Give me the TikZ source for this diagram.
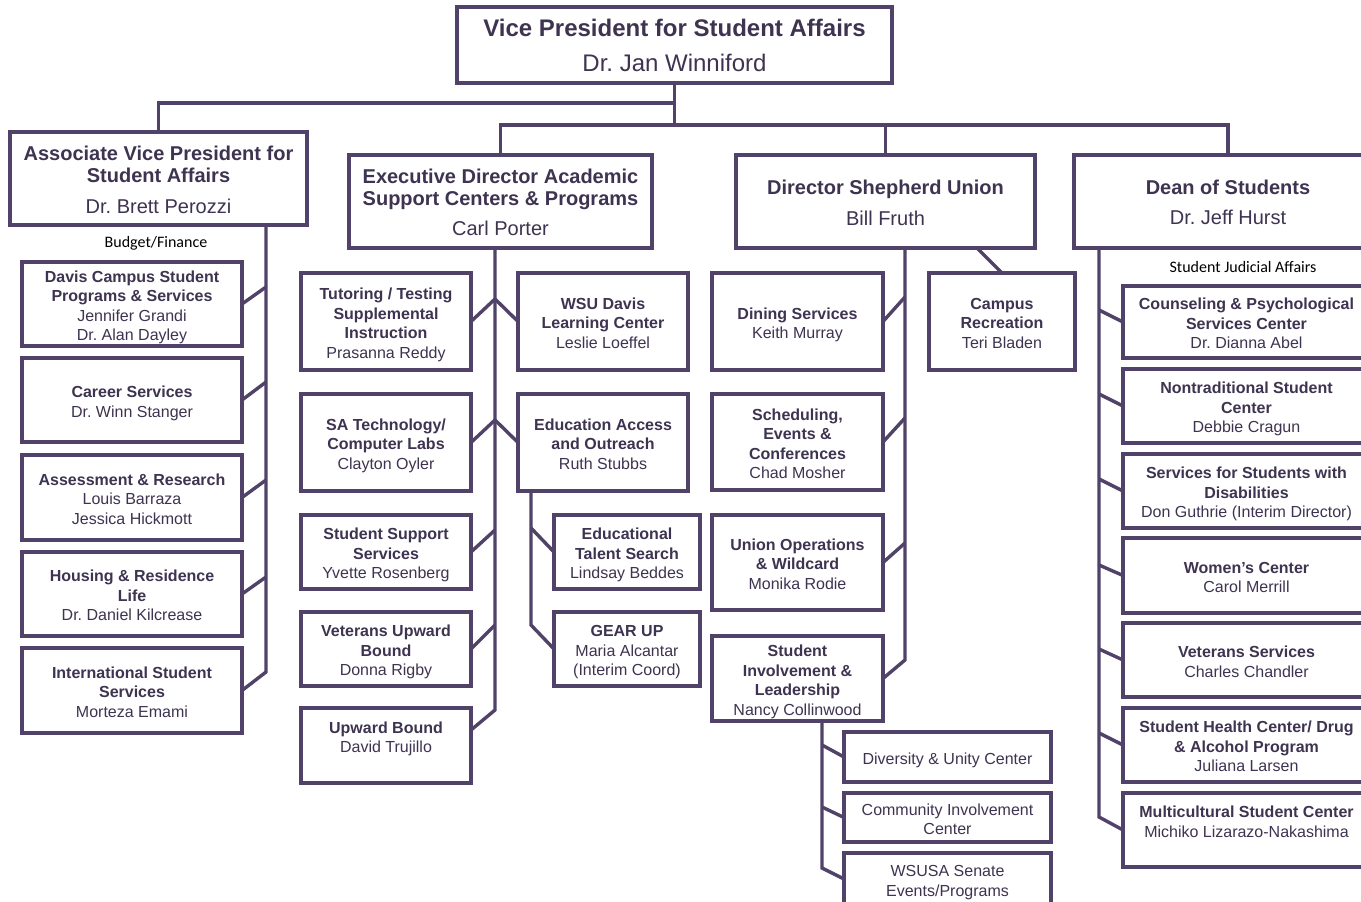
\documentclass[tikz,border=0pt]{standalone}
\usepackage{fontspec}
\setmainfont{Liberation Sans}
\newfontfamily\calibfont{Carlito}
\usetikzlibrary{calc}
\frenchspacing
\definecolor{lc}{RGB}{80,66,104}
\definecolor{tc}{RGB}{62,51,80}
\tikzset{
  strutted/.style 2 args={execute at begin node={\def\fstrut{\rule{0pt}{#1}}\def\lstrut{\rule[-#2]{0pt}{#2}}}},
  obox/.style={draw=lc, line width=3.4pt, fill=white, inner sep=0pt, outer sep=0pt, align=center, text=tc,
    font=\fontsize{16}{19.5}\selectfont, strutted={18pt}{3.4pt}},
  hdr/.style={font=\fontsize{20}{22}\selectfont, strutted={21pt}{4.6pt}},
  vph/.style={font=\fontsize{24}{35}\selectfont, strutted={24pt}{5.8pt}},
  conn/.style={draw=lc, line width=3.4pt},
  note/.style={font=\calibfont\fontsize{16}{19}\selectfont, text=black, inner sep=0pt},
}
\newcommand\orgbox[7][]{\node[obox,#1,minimum width={#5-#3},minimum height={#6-#4}] (#2) at ({(#3+#5)/2},{(#4+#6)/2}) {\fstrut#7\lstrut};}
\begin{document}
\begin{tikzpicture}[x=1pt,y=-1pt]
\useasboundingbox (0,0) rectangle (1361,902);
\clip (0,0) rectangle (1361,902);
\fill[white] (0,0) rectangle (1361,902);

% header boxes
\orgbox[vph]{vp}{457}{7}{892}{83}{\textbf{Vice President for Student Affairs}\\Dr. Jan Winniford}
\orgbox[hdr]{avp}{10}{132}{307}{225}{\textbf{Associate Vice President for}\\\textbf{Student Affairs}\\[9pt]Dr. Brett Perozzi}
\orgbox[hdr]{exec}{349}{155}{652}{248}{\textbf{Executive Director Academic}\\\textbf{Support Centers \& Programs}\\[8pt]Carl Porter}
\orgbox[hdr]{dsu}{736}{155}{1035}{248}{\textbf{Director Shepherd Union}\\[9pt]Bill Fruth}
\orgbox[hdr]{dean}{1074}{155}{1382}{248}{\textbf{Dean of Students}\\[8pt]Dr. Jeff Hurst}

% AVP column
\orgbox{davis}{22}{262}{242}{346}{\textbf{Davis Campus Student}\\\textbf{Programs \& Services}\\Jennifer Grandi\\Dr. Alan Dayley}
\orgbox{career}{22}{358}{242}{442}{\textbf{Career Services}\\Dr. Winn Stanger}
\orgbox{assess}{22}{455}{242}{540}{\textbf{Assessment \& Research}\\Louis Barraza\\Jessica Hickmott}
\orgbox{housing}{22}{552}{242}{636}{\textbf{Housing \& Residence}\\\textbf{Life}\\Dr. Daniel Kilcrease}
\orgbox{intl}{22}{648}{242}{733}{\textbf{International Student}\\\textbf{Services}\\Morteza Emami}

% Exec column
\orgbox{tutor}{301}{273}{471}{370}{\textbf{Tutoring / Testing}\\\textbf{Supplemental}\\\textbf{Instruction}\\Prasanna Reddy}
\orgbox{satech}{301}{394}{471}{491}{\textbf{SA Technology/}\\\textbf{Computer Labs}\\Clayton Oyler}
\orgbox{sss}{301}{515}{471}{589}{\textbf{Student Support}\\\textbf{Services}\\Yvette Rosenberg}
\orgbox{vub}{301}{612}{471}{686}{\textbf{Veterans Upward}\\\textbf{Bound}\\Donna Rigby}
\orgbox{ub}{301}{708}{471}{783}{\textbf{Upward Bound}\\David Trujillo\\}
\orgbox{wsud}{518}{273}{688}{370}{\textbf{WSU Davis}\\\textbf{Learning Center}\\Leslie Loeffel}
\orgbox{eda}{518}{394}{688}{491}{\textbf{Education Access}\\\textbf{and Outreach}\\Ruth Stubbs}
\orgbox{ets}{554}{515}{700}{589}{\textbf{Educational}\\\textbf{Talent Search}\\Lindsay Beddes}
\orgbox{gear}{554}{612}{700}{686}{\textbf{GEAR UP}\\Maria Alcantar\\(Interim Coord)}

% Union column
\orgbox{dining}{712}{273}{883}{370}{\textbf{Dining Services}\\Keith Murray}
\orgbox{crec}{929}{273}{1075}{370}{\textbf{Campus}\\\textbf{Recreation}\\Teri Bladen}
\orgbox{sched}{712}{394}{883}{490}{\textbf{Scheduling,}\\\textbf{Events \&}\\\textbf{Conferences}\\Chad Mosher}
\orgbox{uops}{712}{515}{883}{610}{\textbf{Union Operations}\\\textbf{\& Wildcard}\\Monika Rodie}
\orgbox{si}{712}{636}{883}{721}{\textbf{Student}\\\textbf{Involvement \&}\\\textbf{Leadership}\\Nancy Collinwood}
\orgbox{div}{844}{732}{1051}{782}{Diversity \& Unity Center}
\orgbox{comm}{844}{793}{1051}{842}{Community Involvement\\Center}
\orgbox{wsusa}{844}{853}{1051}{905}{WSUSA Senate\\Events/Programs}

% Dean column
\orgbox{couns}{1123}{286}{1370}{358}{\textbf{Counseling \& Psychological}\\\textbf{Services Center}\\Dr. Dianna Abel}
\orgbox{nontrad}{1123}{369}{1370}{443}{\textbf{Nontraditional Student}\\\textbf{Center}\\Debbie Cragun}
\orgbox{ssd}{1123}{454}{1370}{528}{\textbf{Services for Students with}\\\textbf{Disabilities}\\Don Guthrie (Interim Director)}
\orgbox{women}{1123}{538}{1370}{613}{\textbf{Women’s Center}\\Carol Merrill}
\orgbox{vets}{1123}{623}{1370}{697}{\textbf{Veterans Services}\\Charles Chandler}
\orgbox{health}{1123}{708}{1370}{782}{\textbf{Student Health Center/ Drug}\\\textbf{\& Alcohol Program}\\Juliana Larsen}
\orgbox{mc}{1123}{793}{1370}{867}{\textbf{Multicultural Student Center}\\Michiko Lizarazo-Nakashima\\}

% notes
\node[note] (budget) at (156,243) {Budget/Finance};
\node[note] (sja) at (1243,267) {Student Judicial Affairs};

% top connectors
\coordinate (j1) at ($(vp.south)+(0,20)$);
\coordinate (j2) at ($(vp.south)+(0,42)$);
\draw[conn] (vp.south) -- (j2);
\draw[conn] (j1) -| (avp.north);
\draw[conn] (exec.north) |- (j2) -| (dean.north);
\draw[conn] (j2) -| (dsu.north);

% AVP trunk
\coordinate (a1) at (266,287);
\coordinate (a2) at (266,382);
\coordinate (a3) at (266,480);
\coordinate (a4) at (266,577);
\coordinate (a5) at (266,672);
\draw[conn] (avp.south -| a1) -- (a5) -- (intl.east);
\foreach \p/\b in {a1/davis,a2/career,a3/assess,a4/housing} \draw[conn] (\p) -- (\b.east);

% Exec trunk
\coordinate (e1) at (495,299);
\coordinate (e2) at (495,420);
\coordinate (e3) at (495,530);
\coordinate (e4) at (495,625);
\coordinate (e5) at (495,710);
\draw[conn] (exec.south -| e1) -- (e5) -- ($(ub.north east)+(0,22)$);
\draw[conn] (tutor.east) -- (e1) -- (wsud.west);
\draw[conn] (satech.east) -- (e2) -- (eda.west);
\draw[conn] (e3) -- (sss.east);
\draw[conn] (e4) -- (vub.east);

% Education access sub-trunk
\coordinate (f1) at (531,528);
\coordinate (f2) at (531,625);
\draw[conn] (eda.south -| f1) -- (f2) -- (gear.west);
\draw[conn] (f1) -- (ets.west);

% Union trunk
\coordinate (d1) at (905,297);
\coordinate (d2) at (905,418);
\coordinate (d3) at (905,543);
\coordinate (d4) at (905,660);
\draw[conn] (dsu.south -| d1) -- (d4) -- (si.east);
\draw[conn] (d1) -- (dining.east);
\draw[conn] (d2) -- (sched.east);
\draw[conn] (d3) -- (uops.east);
\coordinate (cr) at (977,248);
\draw[conn] (cr) -- (crec.north);

% Student involvement sub-trunk
\coordinate (s1) at (822,745);
\coordinate (s2) at (822,807);
\coordinate (s3) at (822,868);
\draw[conn] (si.south -| s1) -- (s3) -- (wsusa.west);
\draw[conn] (s1) -- (div.west);
\draw[conn] (s2) -- (comm.west);

% Dean trunk
\coordinate (n1) at (1099,310);
\coordinate (n2) at (1099,394);
\coordinate (n3) at (1099,479);
\coordinate (n4) at (1099,565);
\coordinate (n5) at (1099,649);
\coordinate (n6) at (1099,733);
\coordinate (n7) at (1099,817);
\draw[conn] (dean.south -| n1) -- (n7) -- (mc.west);
\foreach \p/\b in {n1/couns,n2/nontrad,n3/ssd,n4/women,n5/vets,n6/health} \draw[conn] (\p) -- (\b.west);
\end{tikzpicture}
\end{document}
